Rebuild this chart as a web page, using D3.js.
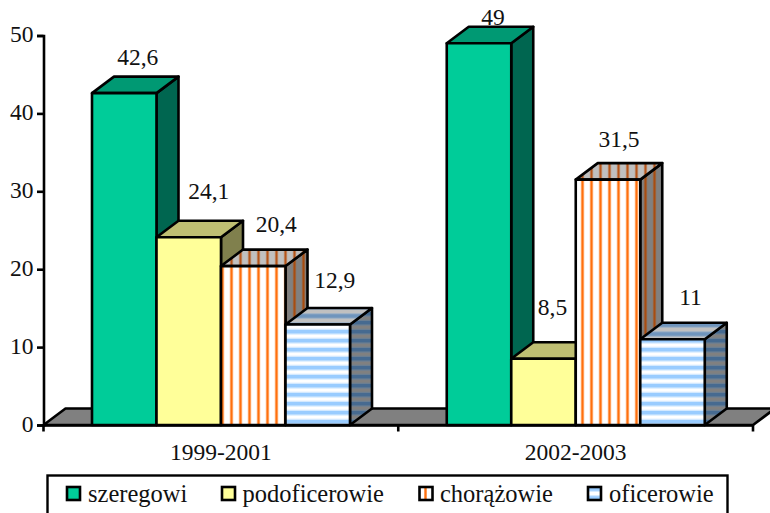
<!DOCTYPE html>
<html>
<head>
<meta charset="utf-8">
<script src="https://cdn.jsdelivr.net/npm/d3@7"></script>
<style>
html,body{margin:0;padding:0;background:#fff}
svg{display:block}
text{font-family:"Liberation Serif",serif;fill:#111}
</style>
</head>
<body>
<div id="chart"></div>
<script>
const categories = ["1999-2001", "2002-2003"];
const seriesNames = ["szeregowi", "podoficerowie", "chorążowie", "oficerowie"];
const values1999 = [42.6, 24.1, 20.4, 12.9];
const values2002 = [49, 8.5, 31.5, 11];
const valueLabels1999 = ["42,6", "24,1", "20,4", "12,9"];
const valueLabels2002 = ["49", "8,5", "31,5", "11"];
const yTicks = [0, 10, 20, 30, 40, 50];

const width = 770, height = 513;
const depthX = 22, depthY = 16.5;
const ink = "#000";
const lineWidth = 2.6;

// Hand-placed value labels: shift from the bar's centre and lift above its back edge
const labelNudge = [
  [[13.5, 11.5], [20, 21.5], [23, 18], [17, 20]],
  [[14, 1.5], [9, 27], [11, 16], [18, 18]]
];
const legendSwatchX = [67, 222, 419.5, 588];
const legendTextX = [88, 242.5, 440, 609];

const svg = d3.select("#chart").append("svg").attr("width", width).attr("height", height);
const defs = svg.append("defs");

// Stripe fills for the two patterned series, one shade per box face.
// `center` is the stripe's centre inside one repeat of the pattern.
function stripes(id, bg, fg, soft, vertical, center, coreWidth, softWidth) {
  const size = 9;
  const p = defs.append("pattern").attr("id", id).attr("patternUnits", "userSpaceOnUse")
    .attr("width", vertical ? size : 40).attr("height", vertical ? 40 : size);
  p.append("rect").attr("width", 40).attr("height", 40).attr("fill", bg);
  const band = (w, c) => [0, size, -size].forEach(shift => {
    const o = center - w / 2 + shift;
    if (vertical) p.append("rect").attr("x", o).attr("y", 0).attr("width", w).attr("height", 40).attr("fill", c);
    else p.append("rect").attr("x", 0).attr("y", o).attr("width", 40).attr("height", w).attr("fill", c);
  });
  band(softWidth, soft);
  band(coreWidth, fg);
}
stripes("orangeFront", "#fff", "#ff6f0d", "#ffc79e", true, 6.5, 2, 3.6);
stripes("orangeTop", "#c0c0c0", "#b5541a", "#c0a48e", true, 6.5, 2, 3.6);
stripes("orangeSide", "#808080", "#a84c10", "#8f7460", true, 6.5, 2, 3.6);
stripes("blueFront", "#fff", "#99ccff", "#d6ebff", false, 7.7, 3.5, 6);
stripes("blueTop", "#c0c0c0", "#6f95bd", "#a2b3c4", false, 1, 3.5, 6);
stripes("blueSide", "#808080", "#466a90", "#6c7f92", false, 7.7, 3.5, 6);
stripes("orangeKey", "#fff", "#ff6f0d", "#ffc79e", true, 2.5, 2, 3);
stripes("blueKey", "#fff", "#99ccff", "#d6ebff", false, 3, 3.5, 6);

const faces = [
  {front: "#00cc99", top: "#009973", side: "#006650"},
  {front: "#ffff99", top: "#bfbf73", side: "#80804d"},
  {front: "url(#orangeFront)", top: "url(#orangeTop)", side: "url(#orangeSide)"},
  {front: "url(#blueFront)", top: "url(#blueTop)", side: "url(#blueSide)"}
];
const swatches = ["#00cc99", "#ffff99", "url(#orangeKey)", "url(#blueKey)"];

const x0 = d3.scaleBand().domain(categories).range([43.5, 753]);
const x1 = d3.scaleBand().domain(seriesNames).range([48.5, 306.5]);
const y = d3.scaleLinear().domain([0, 50]).range([425, 35.5]);

// Floor of the 3D plot, clipped by the right edge of the page.
const floorY = y(0);
svg.append("path")
  .attr("d", d3.line()([[x0.range()[0], floorY], [x0.range()[0] + depthX, floorY - depthY],
    [x0.range()[1] + depthX, floorY - depthY], [x0.range()[1], floorY]]) + "Z")
  .attr("fill", "#808080").attr("stroke", ink).attr("stroke-width", lineWidth).attr("stroke-linejoin", "round");

// Axes
const yAxis = d3.axisLeft(y).tickValues(yTicks).tickSize(6.5).tickPadding(3.5);
svg.append("g").attr("transform", `translate(${x0.range()[0]},0)`).call(yAxis)
  .call(g => g.select(".domain").attr("stroke", ink).attr("stroke-width", lineWidth))
  .call(g => g.selectAll(".tick line").attr("stroke", ink).attr("stroke-width", lineWidth))
  .call(g => g.selectAll("text").attr("font-family", "Liberation Serif").attr("font-size", 23.5)
    .attr("fill", "#111").attr("dy", "0.27em"));

const xAxis = d3.axisBottom(x0).tickSize(0).tickPadding(18);
const xG = svg.append("g").attr("transform", `translate(0,${floorY})`).call(xAxis);
xG.select(".domain").attr("stroke", ink).attr("stroke-width", lineWidth);
xG.selectAll("text").attr("font-family", "Liberation Serif").attr("font-size", 23.5).attr("fill", "#111");
xG.selectAll(".boundary").data([x0.range()[0], x0(categories[1]), x0.range()[1]]).join("line")
  .attr("class", "boundary").attr("x1", d => d).attr("x2", d => d).attr("y1", 0).attr("y2", 6.5)
  .attr("stroke", ink).attr("stroke-width", lineWidth);

// Bars: side and top faces first, then the front, left to right
const rows = [
  {cat: categories[0], values: values1999, labels: valueLabels1999},
  {cat: categories[1], values: values2002, labels: valueLabels2002}
];
const bars = svg.append("g");
rows.forEach(row => {
  row.values.forEach((v, i) => {
    const left = x0(row.cat) + x1(seriesNames[i]);
    const right = left + x1.bandwidth();
    const top = y(v), base = y(0);
    const g = bars.append("g").attr("stroke", ink).attr("stroke-width", lineWidth).attr("stroke-linejoin", "round");
    const poly = pts => d3.line()(pts) + "Z";
    g.append("path").attr("fill", faces[i].side).attr("d", poly([
      [right, top], [right + depthX, top - depthY], [right + depthX, base - depthY], [right, base]]));
    g.append("path").attr("fill", faces[i].top).attr("d", poly([
      [left, top], [left + depthX, top - depthY], [right + depthX, top - depthY], [right, top]]));
    g.append("rect").attr("x", left).attr("y", top).attr("width", right - left).attr("height", base - top)
      .attr("fill", faces[i].front);
  });
});

// Value labels
rows.forEach((row, r) => {
  row.values.forEach((v, i) => {
    const left = x0(row.cat) + x1(seriesNames[i]);
    const [dx, lift] = labelNudge[r][i];
    svg.append("text")
      .attr("x", left + x1.bandwidth() / 2 + dx)
      .attr("y", y(v) - depthY - lift)
      .attr("text-anchor", "middle").attr("font-size", 23.5)
      .text(row.labels[i]);
  });
});

// Legend box runs off the bottom of the page
svg.append("rect").attr("x", 47.5).attr("y", 475.5).attr("width", 680).attr("height", 60)
  .attr("fill", "#fff").attr("stroke", ink).attr("stroke-width", 2.4);
seriesNames.forEach((name, i) => {
  svg.append("rect").attr("x", legendSwatchX[i]).attr("y", 487).attr("width", 13).attr("height", 13)
    .attr("fill", swatches[i]).attr("stroke", ink).attr("stroke-width", 2.6);
  svg.append("text").attr("x", legendTextX[i]).attr("y", 502).attr("font-size", 24.5).text(name);
});
</script>
</body>
</html>
